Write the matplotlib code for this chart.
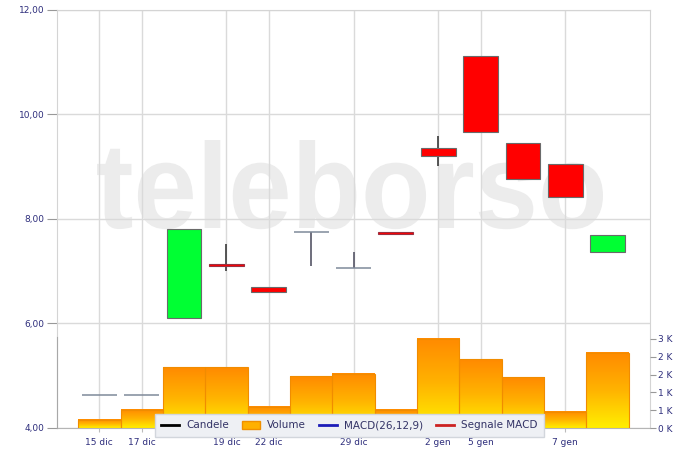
import numpy as np
import matplotlib
matplotlib.use("Agg")
import matplotlib.pyplot as plt
from matplotlib.patches import Rectangle, Patch, PathPatch
from matplotlib.lines import Line2D
from matplotlib.textpath import TextPath
from matplotlib.font_manager import FontProperties
from matplotlib.transforms import Affine2D
from matplotlib.colors import LinearSegmentedColormap

# ---------------- data ----------------
session_labels = ["15 dic", "17 dic", "", "19 dic", "22 dic", "", "29 dic", "",
                  "2 gen", "5 gen", "", "7 gen", ""]
open_ = [4.63, 4.63, 6.10, 7.14, 6.70, 7.75, 7.06, 7.75, 9.36, 11.12, 9.45, 9.05, 7.37]
high = [4.63, 4.63, 7.81, 7.52, 6.70, 7.75, 7.37, 7.75, 9.59, 11.12, 9.45, 9.05, 7.69]
low = [4.63, 4.63, 6.10, 7.00, 6.60, 7.10, 7.06, 7.71, 9.01, 9.67, 8.77, 8.42, 7.37]
close = [4.63, 4.63, 7.81, 7.11, 6.60, 7.75, 7.06, 7.71, 9.21, 9.67, 8.77, 8.42, 7.69]
volume = [225, 506, 1713, 1713, 590, 1460, 1517, 506, 2500, 1938, 1432, 450, 2107]

price_ticks = [4, 6, 8, 10, 12]
price_tick_labels = ["4,00", "6,00", "8,00", "10,00", "12,00"]
vol_ticks = [0, 500, 1000, 1500, 2000, 2500]
vol_tick_labels = ["0 K", "1 K", "1 K", "2 K", "2 K", "3 K"]
legend_labels = ["Candele", "Volume", "MACD(26,12,9)", "Segnale MACD"]

# ---------------- style ----------------
TXT = "#2e2e7c"
GRID = "#dadada"
n = len(open_)
x = np.arange(n)

fig = plt.figure(figsize=(7, 4.51), dpi=100)
ax = fig.add_axes([57 / 700, 23 / 451, 593 / 700, 418 / 451])
ax.set_xlim(-1, 13)
ax.set_ylim(4, 12)

# watermark
fp = FontProperties(family="Liberation Sans", weight="bold")
tp = TextPath((0, 0), "teleborso", size=1, prop=fp)
ext = tp.get_extents()
sx = (603 - 97) / ext.width
sy = 88 / (ext.y1 - 0)
tr = (Affine2D().translate(-ext.x0, 0).scale(sx, sy).translate(97, 451 - 228)
      .scale(1 / 700, 1 / 451) + fig.transFigure)
ax.add_patch(PathPatch(tp, transform=tr, facecolor="#ececec", edgecolor="none", zorder=0.1))

# grid
for yv in price_ticks:
    ax.axhline(yv, color=GRID, lw=1, zorder=0.5)
for i, lab in enumerate(session_labels):
    if lab:
        ax.axvline(i, color=GRID, lw=1, zorder=0.5)

# candles
w = 0.82
for i in x:
    o, h, l, c = open_[i], high[i], low[i], close[i]
    flat = (o == c)
    wick_col = "#3a3a3a" if not flat else "#555566"
    if h > l:
        ax.vlines(i, l, h, color=wick_col, lw=1.2, zorder=2)
    if flat:
        ax.hlines(o, i - w / 2, i + w / 2, color="#7f8a9a", lw=1.1, zorder=3)
    else:
        fc = "#00ff33" if c > o else "#ff0000"
        small = abs(c - o) < 0.06
        ec = "#9a3040" if small else "#6a6a6a"
        ax.add_patch(Rectangle((i - w / 2, min(o, c)), w, abs(c - o), facecolor=fc,
                               edgecolor=ec, lw=0.8, zorder=3))

ax.set_yticks(price_ticks)
ax.set_yticklabels(price_tick_labels)
ticks_pos = [i for i, lab in enumerate(session_labels) if lab]
ax.set_xticks(ticks_pos)
ax.set_xticklabels([session_labels[i] for i in ticks_pos])
ax.tick_params(axis="y", colors="#999999", labelcolor=TXT, labelsize=6.5, length=7, width=0.8, pad=2)
ax.tick_params(axis="x", colors="#bbbbbb", labelcolor=TXT, labelsize=6.5, length=3, pad=4)
for s in ["left", "top", "right"]:
    ax.spines[s].set_color("#d4d4d4")
ax.spines["bottom"].set_color("#b5b5b5")

# volume axis
ax2 = ax.twinx()
cmap = LinearSegmentedColormap.from_list("vol", ["#ffef00", "#ffb300", "#ff8a00"])
grad = np.linspace(0, 1, 256).reshape(-1, 1)
for i in x:
    v = volume[i]
    ax2.imshow(grad, extent=(i - 0.5, i + 0.5, 0, v), origin="lower", cmap=cmap,
               aspect="auto", zorder=2, interpolation="bilinear")
    ax2.add_patch(Rectangle((i - 0.5, 0), 1, v, fill=False, edgecolor="#f08c00", lw=0.8, zorder=3))
ax2.set_xlim(-1, 13)
ax2.set_ylim(0, 2500 * 418 / 89)
ax2.set_yticks(vol_ticks)
ax2.set_yticklabels(vol_tick_labels)
ax2.tick_params(axis="y", colors="#999999", labelcolor=TXT, labelsize=6.5, length=4, width=0.8, pad=2)
for s in ["top", "right", "bottom"]:
    ax2.spines[s].set_visible(False)
ax2.spines["left"].set_color("#a8a8a8")
ax2.spines["left"].set_bounds(0, 2550)

# legend
handles = [Line2D([], [], color="black", lw=2),
           Patch(facecolor="#ffb000", edgecolor="#f09000"),
           Line2D([], [], color="#1c1cb8", lw=2),
           Line2D([], [], color="#cc2222", lw=2)]
leg = fig.legend(handles, legend_labels, ncol=4, loc="center",
                 bbox_to_anchor=(349.5 / 700, (451 - 425.5) / 451),
                 fontsize=7.5, labelcolor="#333366", frameon=True, fancybox=False,
                 handlelength=1.7, handleheight=0.9, handletextpad=0.7, columnspacing=1.25,
                 borderpad=0.65, borderaxespad=0)
leg.get_frame().set_facecolor("#eef0f4")
leg.get_frame().set_edgecolor("#d2d6dc")
leg.get_frame().set_alpha(1)
leg.set_zorder(10)

fig.savefig("out.png", dpi=100)
